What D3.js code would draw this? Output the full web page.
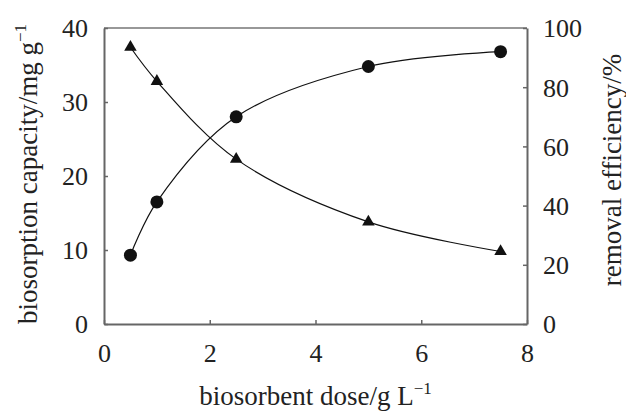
<!DOCTYPE html>
<html>
<head>
<meta charset="utf-8">
<script src="https://cdn.jsdelivr.net/npm/d3@7/dist/d3.min.js"></script>
<style>
  html, body { margin: 0; padding: 0; background: #fff; }
  svg text { font-family: 'Liberation Serif', 'Times New Roman', Times, 'DejaVu Serif', serif !important; fill: #222; }
</style>
</head>
<body>
<svg id="chart" width="626" height="412"></svg>
<script>
// Biosorbent dose (g/L)
const dose = [0.5, 1, 2.5, 5, 7.5];
// Biosorption capacity (mg/g), left axis
const capacity = [9.3, 16.5, 28.0, 34.8, 36.8];
// Removal efficiency (%), right axis
const efficiency = [93.5, 82, 55.7, 34.5, 24.5];

const xTicks = [0, 2, 4, 6, 8];
const yLeftTicks = [0, 10, 20, 30, 40];
const yRightTicks = [0, 20, 40, 60, 80, 100];

const FONT = "'Liberation Serif', 'Times New Roman', Times, 'DejaVu Serif', serif";

const svg = d3.select("#chart");
const m = { left: 104, right: 527, top: 28, bottom: 324 };

const x = d3.scaleLinear().domain([0, 8]).range([m.left, m.right]);
const yL = d3.scaleLinear().domain([0, 40]).range([m.bottom, m.top]);
const yR = d3.scaleLinear().domain([0, 100]).range([m.bottom, m.top]);

const axisColor = "#666";
const fontSize = 26;

// frame top edge
svg.append("line").attr("x1", m.left).attr("x2", m.right).attr("y1", m.top).attr("y2", m.top)
  .attr("stroke", "#333").attr("stroke-width", 1.2);

function styleAxis(g) {
  g.attr("font-family", FONT).attr("font-size", fontSize);
  g.select(".domain").attr("stroke", axisColor).attr("stroke-width", 2);
  g.selectAll(".tick line").attr("stroke", axisColor).attr("stroke-width", 1.5);
  g.selectAll(".tick text").attr("fill", "#222").attr("font-family", FONT).attr("font-size", fontSize);
}

// bottom axis with inward ticks
const gx = svg.append("g").attr("transform", `translate(0,${m.bottom})`)
  .call(d3.axisBottom(x).tickValues(xTicks).tickSizeInner(-4).tickSizeOuter(0));
styleAxis(gx);
gx.selectAll(".tick text").attr("y", 38).attr("dy", 0);

// left axis
const gl = svg.append("g").attr("transform", `translate(${m.left},0)`)
  .call(d3.axisLeft(yL).tickValues(yLeftTicks).tickSizeInner(-4).tickSizeOuter(0).tickPadding(16));
styleAxis(gl);
gl.selectAll(".tick text").attr("dy", "0.34em");

// right axis
const gr = svg.append("g").attr("transform", `translate(${m.right},0)`)
  .call(d3.axisRight(yR).tickValues(yRightTicks).tickSizeInner(-4).tickSizeOuter(0).tickPadding(16));
styleAxis(gr);
gr.selectAll(".tick text").attr("dy", "0.34em");

// fitted curves
const capLine = d3.line().x((d, i) => x(dose[i])).y(d => yL(d)).curve(d3.curveCatmullRom.alpha(0.5));
const effLine = d3.line().x((d, i) => x(dose[i])).y(d => yR(d)).curve(d3.curveCatmullRom.alpha(0.5));

svg.append("path").attr("d", capLine(capacity)).attr("fill", "none").attr("stroke", "#111").attr("stroke-width", 1.2);
svg.append("path").attr("d", effLine(efficiency)).attr("fill", "none").attr("stroke", "#111").attr("stroke-width", 1.2);

// markers
svg.selectAll("circle.cap").data(capacity).enter().append("circle")
  .attr("class", "cap")
  .attr("cx", (d, i) => x(dose[i])).attr("cy", d => yL(d)).attr("r", 6.5).attr("fill", "#111");

const tri = d3.symbol().type(d3.symbolTriangle).size(68);
svg.selectAll("path.eff").data(efficiency).enter().append("path")
  .attr("class", "eff")
  .attr("d", tri).attr("transform", (d, i) => `translate(${x(dose[i])},${yR(d)})`).attr("fill", "#111");

// axis titles
const xt = svg.append("text").attr("x", (m.left + m.right) / 2).attr("y", 405)
  .attr("text-anchor", "middle").attr("font-family", FONT).attr("font-size", 27);
xt.append("tspan").text("biosorbent dose/g L");
xt.append("tspan").attr("dy", -11).attr("font-size", 17).text("\u22121");

const ylt = svg.append("text").attr("transform", "translate(37,174) rotate(-90)")
  .attr("text-anchor", "middle").attr("font-family", FONT).attr("font-size", 27);
ylt.append("tspan").text("biosorption capacity/mg g");
ylt.append("tspan").attr("dy", -11).attr("font-size", 17).text("\u22121");

svg.append("text").attr("transform", "translate(621,170) rotate(-90)")
  .attr("text-anchor", "middle").attr("font-family", FONT).attr("font-size", 27).text("removal efficiency/%");
</script>
</body>
</html>
